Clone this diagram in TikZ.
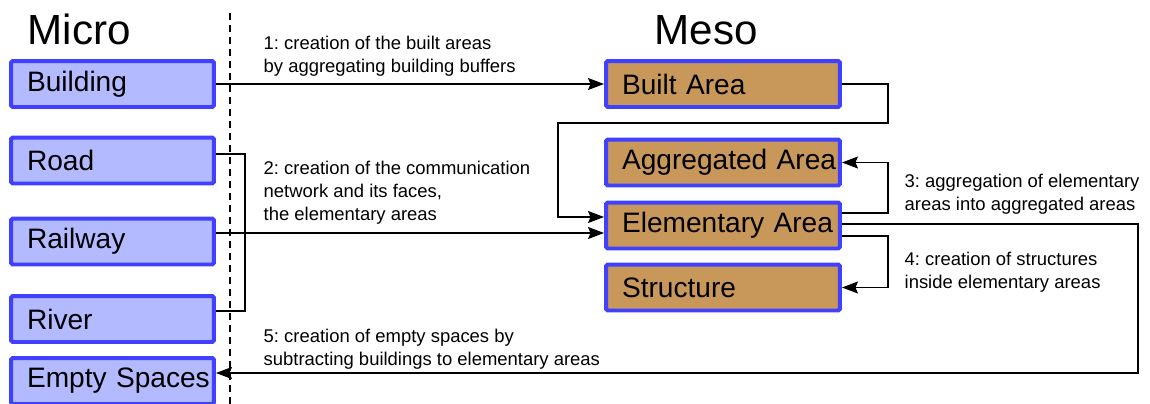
\documentclass[tikz,border=0pt]{standalone}
\usepackage{fontspec}
\setmainfont{Liberation Sans}
\frenchspacing
\usetikzlibrary{arrows.meta}
\usetikzlibrary{calc}
\definecolor{boxline}{RGB}{64,64,255}
\definecolor{microfill}{RGB}{180,186,255}
\definecolor{mesofill}{RGB}{200,151,90}
\tikzset{micro/.style={draw=boxline,fill=microfill,line width=2.27pt,rounded corners=1pt,minimum height=0.92cm,text width=4.06cm,inner xsep=0pt,align=left,execute at begin node={\hspace*{0.32cm}},font=\fontsize{16}{16}\selectfont}}
\tikzset{meso/.style={micro,fill=mesofill,text width=4.68cm}}
\tikzset{lab/.style={anchor=base west,align=left,inner sep=0pt,font=\fontsize{10.5}{13}\selectfont}}
\tikzset{ttl/.style={anchor=base west,inner sep=0pt,font=\fontsize{24}{24}\selectfont}}
\begin{document}
\begin{tikzpicture}[x=0.02cm,y=-0.02cm,line width=0.75pt,>={Stealth[length=0.32cm,width=0.24cm,inset=0.05cm]}]
          \useasboundingbox (0,0) rectangle (1150,403);
          \draw[dash pattern=on 0.14cm off 0.1cm] (230,13) -- (230,410);
          \node[ttl] (microttl) at (27,44) {Micro};
          \node[ttl] (mesottl) at (654,44) {Meso};
          % micro level
          \node[micro] (building) at (112.5,84) {Building};
          \node[micro] (road) at (112.5,160.5) {Road};
          \node[micro] (railway) at (112.5,241.5) {Railway};
          \node[micro] (river) at (112.5,319) {River};
          \node[micro] (empty) at (112.5,381) {Empty Spaces};
          % meso level
          \node[meso] (built) at (723,84) {Built Area}
            edge [<-] (building);
          \node[meso] (aggregated) at (723,162.5) {Aggregated Area};
          \node[meso] (elementary) at (723,225.5) {Elementary Area};
          \node[meso] (structure) at (723,287.5) {Structure};
          \coordinate (roadout) at ($(road.east)+(0,-6.5)$);
          \coordinate (riverout) at ($(river.east)+(0,-8)$);
          \coordinate (railout) at ($(railway.east)+(0,-8.5)$);
          \coordinate (elemin) at ($(elementary.west)+(0,-8.5)$);
          \coordinate (aggout) at ($(elementary.east)+(0,-12.5)$);
          \coordinate (emptyout) at ($(elementary.east)+(0,-1.5)$);
          \coordinate (structout) at ($(elementary.east)+(0,10.5)$);
          \coordinate (emptyin) at ($(empty.east)+(0,-8)$);
          \draw (roadout) -- ++(29,0) |- (riverout);
          \draw[->] (railout) -- (railout -| elementary.west);
          \draw[->] (built.east) -- ++(46,0) -- ++(0,39) -| ($(elemin)+(-46,0)$) -- (elemin);
          \draw[->] (aggout) -- ++(46,0) |- (aggregated.east);
          \draw[->] (structout) -- ++(46,0) |- (structure.east);
          \draw[->] (emptyout) -- ++(296,0) |- (emptyin);
          % step labels
          \node[lab] (lab1) at (263,72) {1: creation of the built areas\\by aggregating building buffers};
          \node[lab] (lab2) at (263,220) {2: creation of the communication\\network and its faces,\\the elementary areas};
          \node[lab] (lab3) at (904,210) {3: aggregation of elementary\\areas into aggregated areas};
          \node[lab] (lab4) at (904,288) {4: creation of structures\\inside elementary areas};
          \node[lab] (lab5) at (263,365) {5: creation of empty spaces by\\subtracting buildings to elementary areas};
        \end{tikzpicture}
\end{document}
